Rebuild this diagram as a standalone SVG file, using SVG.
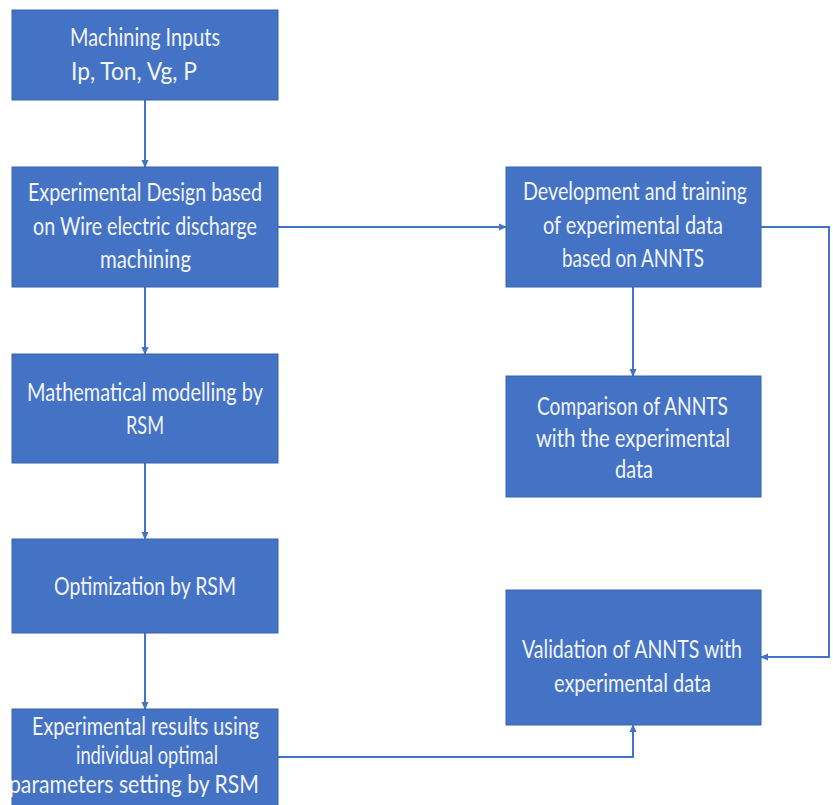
<svg xmlns="http://www.w3.org/2000/svg" width="833" height="805" viewBox="0 0 833 805">
<defs>
<style>
.box{fill:#4472C4;stroke:#3A62AA;stroke-width:1}
.t{fill:#F2F5FC;font-family:Lato,"Open Sans","Liberation Sans",sans-serif;font-size:25px;text-anchor:middle}
.c{fill:none;stroke:#4472C4;stroke-width:2}
</style>
<marker id="ah" viewBox="0 0 8 8" refX="7" refY="4" markerWidth="8" markerHeight="8" markerUnits="userSpaceOnUse" orient="auto">
<path d="M0,0.5 L8,4 L0,7.5 Z" fill="#4472C4"/>
</marker>
</defs>
<rect width="833" height="805" fill="#FFFFFF"/>
<g id="connectors">
<line class="c" x1="145" y1="100" x2="145" y2="167" marker-end="url(#ah)"/>
<line class="c" x1="145" y1="287" x2="145" y2="354" marker-end="url(#ah)"/>
<line class="c" x1="145" y1="463" x2="145" y2="539" marker-end="url(#ah)"/>
<line class="c" x1="145" y1="633" x2="145" y2="709" marker-end="url(#ah)"/>
<line class="c" x1="278" y1="227" x2="506" y2="227" marker-end="url(#ah)"/>
<line class="c" x1="633" y1="287" x2="633" y2="376" marker-end="url(#ah)"/>
<polyline class="c" points="761,227 829,227 829,657 761,657" marker-end="url(#ah)"/>
<polyline class="c" points="278,757 633,757 633,725" marker-end="url(#ah)"/>
</g>
<g id="n1">
<rect class="box" x="12" y="10" width="266" height="90"/>
<text class="t" x="145" y="46" textLength="150" lengthAdjust="spacingAndGlyphs">Machining Inputs</text>
<text class="t" x="134" y="80" textLength="126" lengthAdjust="spacingAndGlyphs">Ip, Ton, Vg, P</text>
</g>
<g id="n2">
<rect class="box" x="12" y="167" width="266" height="120"/>
<text class="t" x="145" y="201" textLength="234" lengthAdjust="spacingAndGlyphs">Experimental Design based</text>
<text class="t" x="145" y="235" textLength="224" lengthAdjust="spacingAndGlyphs">on Wire electric discharge</text>
<text class="t" x="145.5" y="268" textLength="91" lengthAdjust="spacingAndGlyphs">machining</text>
</g>
<g id="n3">
<rect class="box" x="12" y="354" width="266" height="109"/>
<text class="t" x="145" y="401" textLength="236" lengthAdjust="spacingAndGlyphs">Mathematical modelling by</text>
<text class="t" x="145" y="434" textLength="38" lengthAdjust="spacingAndGlyphs">RSM</text>
</g>
<g id="n4">
<rect class="box" x="12" y="539" width="266" height="94"/>
<text class="t" x="145" y="595" textLength="182" lengthAdjust="spacingAndGlyphs">Optimization by RSM</text>
</g>
<g id="n5">
<rect class="box" x="12" y="709" width="266" height="100"/>
<text class="t" x="145.5" y="735" textLength="227" lengthAdjust="spacingAndGlyphs">Experimental results using</text>
<text class="t" x="147" y="764" textLength="142" lengthAdjust="spacingAndGlyphs">individual optimal</text>
<text class="t" x="134" y="793" textLength="250" lengthAdjust="spacingAndGlyphs">parameters setting by RSM</text>
</g>
<g id="n6">
<rect class="box" x="506" y="167" width="255" height="120"/>
<text class="t" x="635" y="200" textLength="224" lengthAdjust="spacingAndGlyphs">Development and training</text>
<text class="t" x="633" y="234" textLength="180" lengthAdjust="spacingAndGlyphs">of experimental data</text>
<text class="t" x="633" y="267" textLength="142" lengthAdjust="spacingAndGlyphs">based on ANNTS</text>
</g>
<g id="n7">
<rect class="box" x="506" y="376" width="255" height="121"/>
<text class="t" x="632.5" y="415" textLength="191" lengthAdjust="spacingAndGlyphs">Comparison of ANNTS</text>
<text class="t" x="633" y="447" textLength="194" lengthAdjust="spacingAndGlyphs">with the experimental</text>
<text class="t" x="634" y="478" textLength="38" lengthAdjust="spacingAndGlyphs">data</text>
</g>
<g id="n8">
<rect class="box" x="506" y="590" width="255" height="135"/>
<text class="t" x="632" y="658" textLength="220" lengthAdjust="spacingAndGlyphs">Validation of ANNTS with</text>
<text class="t" x="632.5" y="692" textLength="157" lengthAdjust="spacingAndGlyphs">experimental data</text>
</g>
</svg>
